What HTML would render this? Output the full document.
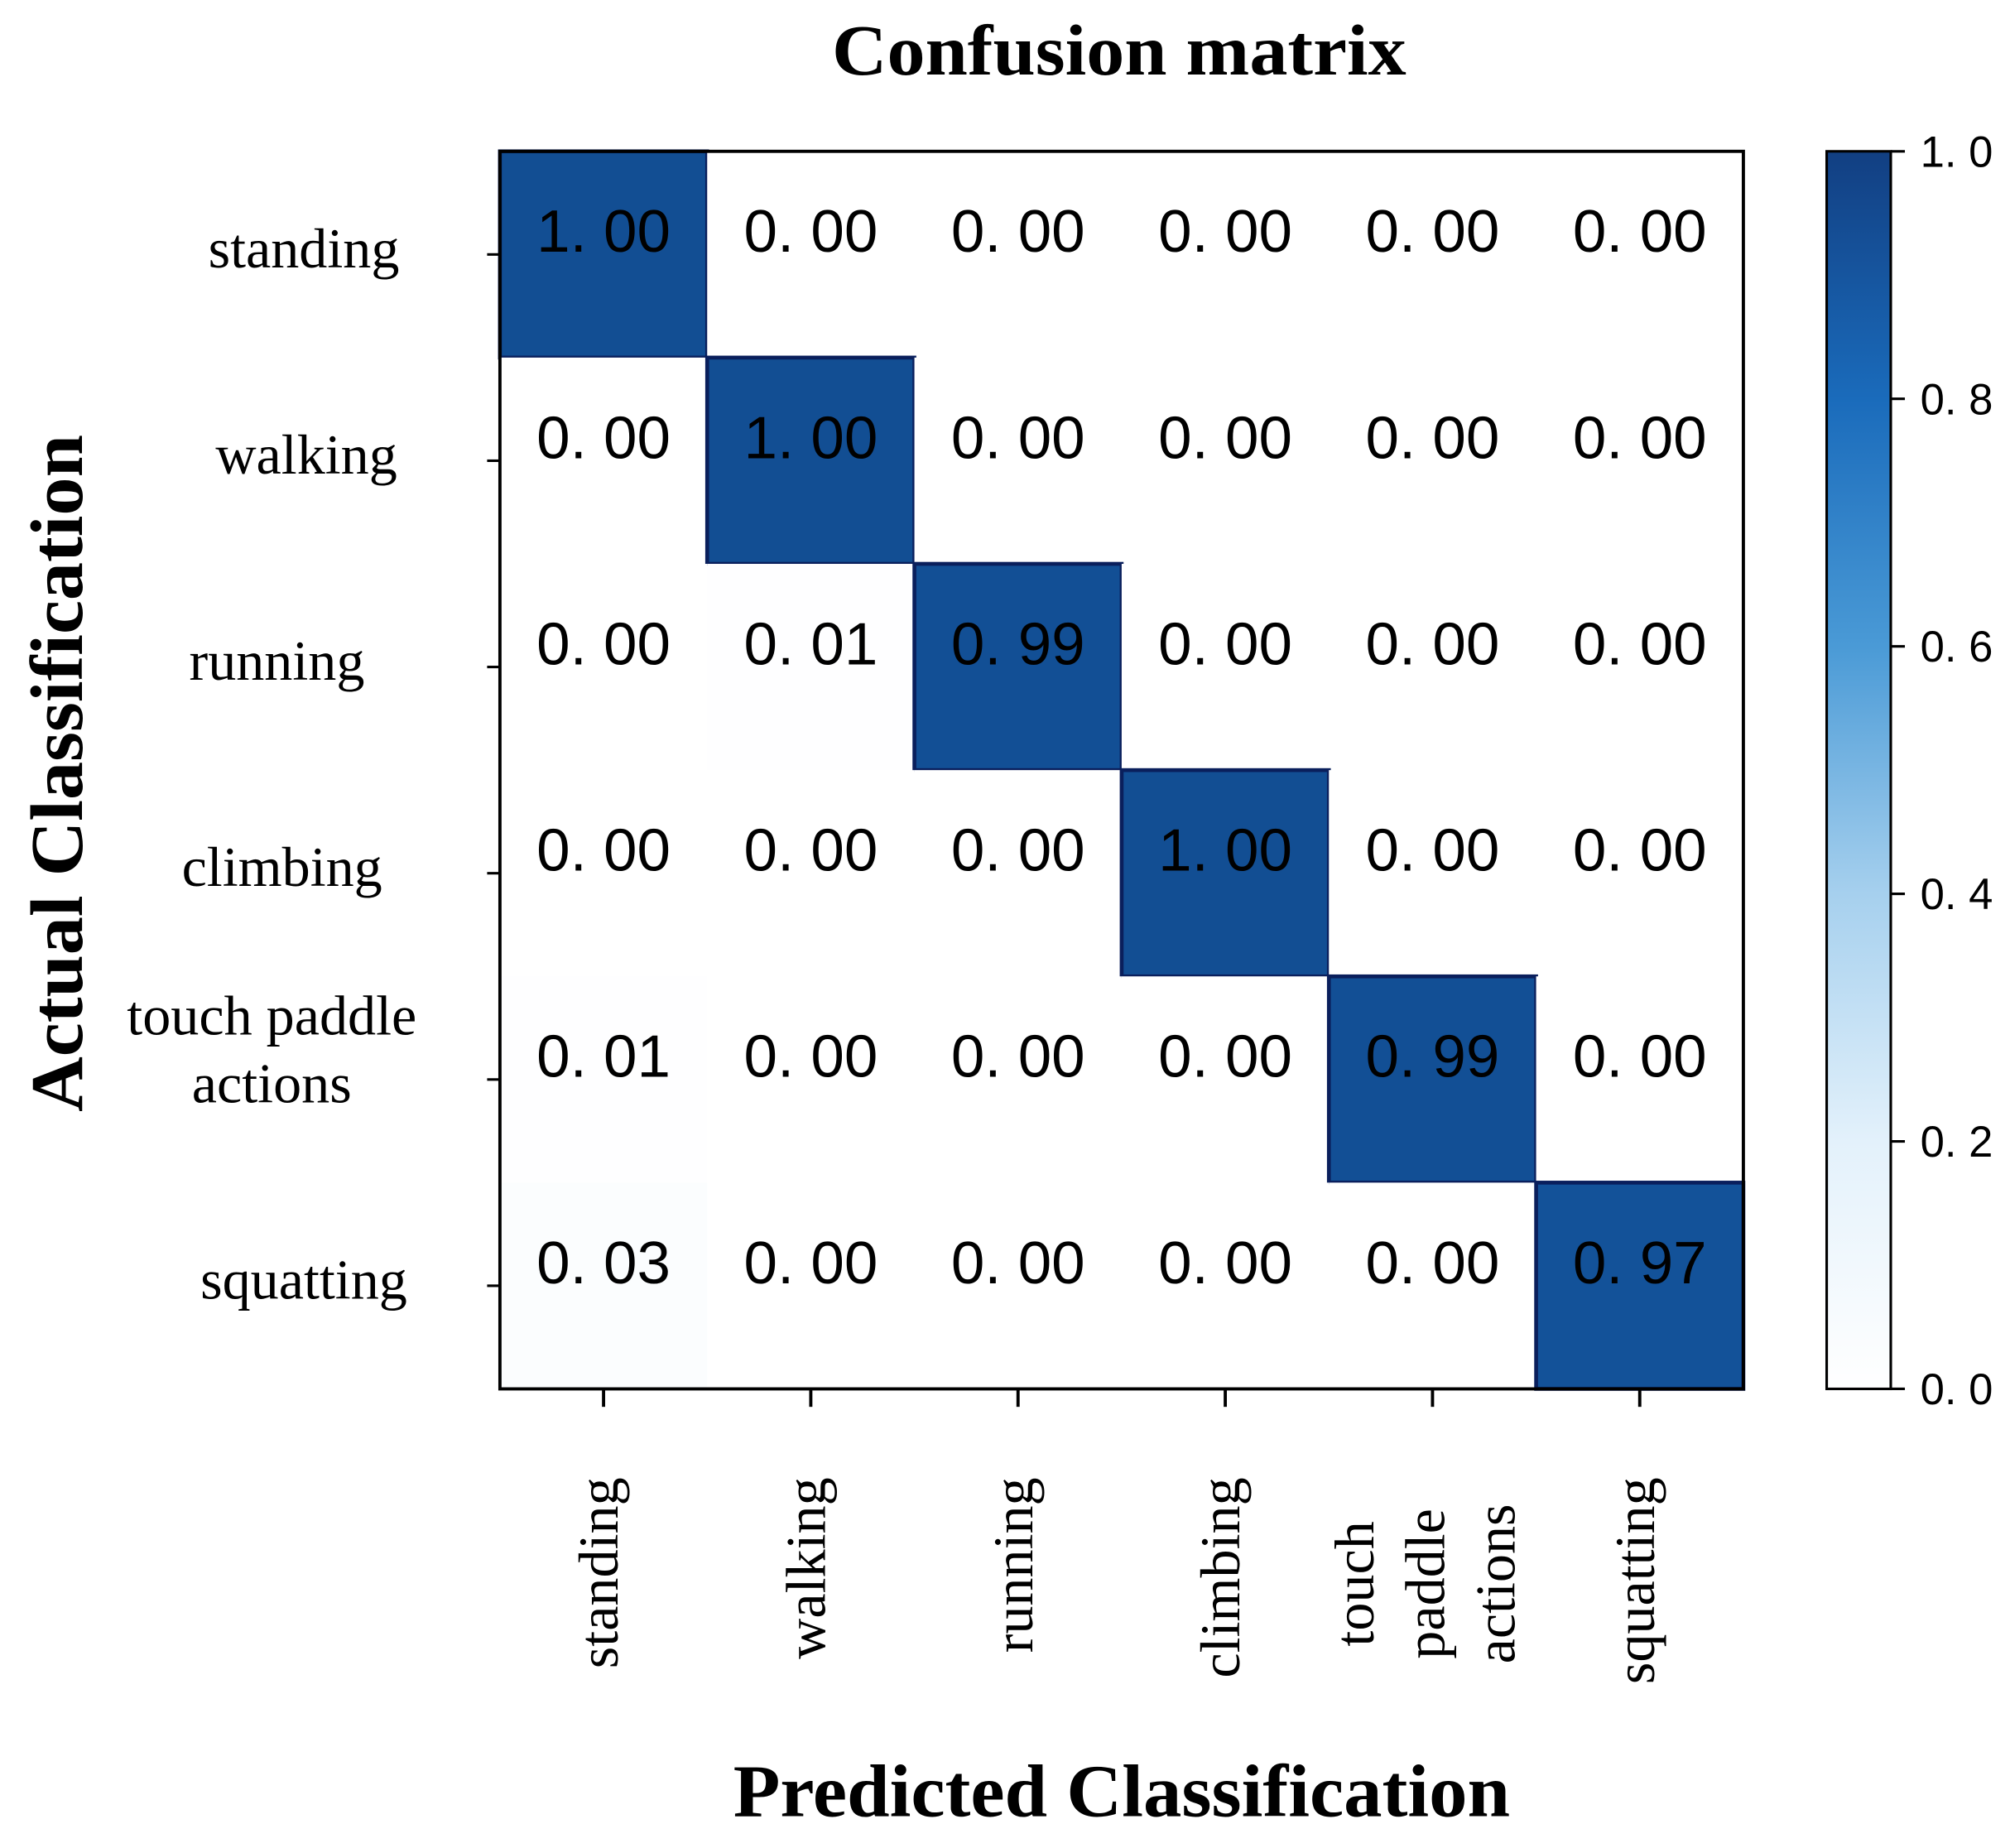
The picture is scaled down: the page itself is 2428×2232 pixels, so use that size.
<!DOCTYPE html>
<html><head><meta charset="utf-8"><style>
html,body{margin:0;padding:0;background:#fff;}
svg{display:block;}
.serif{font-family:"Liberation Serif",serif;}
.sans{font-family:"Liberation Sans",sans-serif;}
</style></head>
<body>
<svg id="chart" width="2428" height="2232" viewBox="0 0 1568 1441" preserveAspectRatio="none" xmlns="http://www.w3.org/2000/svg">
<defs>
<linearGradient id="cbar" x1="0" y1="1" x2="0" y2="0">
<stop offset="0" stop-color="#ffffff"/>
<stop offset="0.2" stop-color="#e3f1fb"/>
<stop offset="0.4" stop-color="#a6d0ee"/>
<stop offset="0.6" stop-color="#4a9ad6"/>
<stop offset="0.8" stop-color="#1a6bbb"/>
<stop offset="1" stop-color="#123f82"/>
</linearGradient>
</defs>
<text class="serif" x="873" y="58" font-size="56" font-weight="bold" text-anchor="middle" textLength="448" lengthAdjust="spacingAndGlyphs">Confusion matrix</text>
<g id="cells"></g>
<rect x="390" y="118" width="970" height="965" fill="none" stroke="#000" stroke-width="2.5"/>
<g id="ticks"></g>
<text class="serif" transform="translate(64,603) rotate(-90)" font-size="58" font-weight="bold" text-anchor="middle" textLength="528" lengthAdjust="spacingAndGlyphs">Actual Classification</text>
<text class="serif" x="875" y="1416" font-size="58" font-weight="bold" text-anchor="middle" textLength="606" lengthAdjust="spacingAndGlyphs">Predicted Classification</text>
<rect x="1425" y="118" width="50" height="965" fill="url(#cbar)" stroke="#000" stroke-width="2"/>
<g id="cbticks"></g>
</svg>
<script>
const categories = ["standing","walking","running","climbing","touch paddle actions","squatting"];
const row0 = [1.00,0.00,0.00,0.00,0.00,0.00];
const row1 = [0.00,1.00,0.00,0.00,0.00,0.00];
const row2 = [0.00,0.01,0.99,0.00,0.00,0.00];
const row3 = [0.00,0.00,0.00,1.00,0.00,0.00];
const row4 = [0.01,0.00,0.00,0.00,0.99,0.00];
const row5 = [0.03,0.00,0.00,0.00,0.00,0.97];
const cbTicks = [0.0,0.2,0.4,0.6,0.8,1.0];
const rows=[row0,row1,row2,row3,row4,row5];
const NS="http://www.w3.org/2000/svg";
const X0=390,X1=1360,Y0=118,Y1=1083,n=categories.length;
const cw=(X1-X0)/n,ch=(Y1-Y0)/n;
const xs=i=>X0+i*cw, ys=j=>Y0+j*ch;
const cbY=v=>Y1-v*(Y1-Y0);
const stops=[[0,[255,255,255]],[0.2,[227,241,251]],[0.4,[166,208,238]],[0.6,[74,154,214]],[0.8,[26,107,187]],[1,[18,78,147]]];
function color(v){for(let k=1;k<stops.length;k++){if(v<=stops[k][0]){const a=stops[k-1],b=stops[k];const t=(v-a[0])/(b[0]-a[0]);const c=a[1].map((q,i)=>Math.round(q+(b[1][i]-q)*t));return `rgb(${c.join(',')})`;}}return 'rgb(18,78,147)';}
function mk(tag,attrs,parent){const e=document.createElementNS(NS,tag);for(const k in attrs)e.setAttribute(k,attrs[k]);parent.appendChild(e);return e;}
const gc=document.getElementById('cells'),gt=document.getElementById('ticks'),gb=document.getElementById('cbticks');
rows.forEach((r,j)=>{r.forEach((v,i)=>{
 const rc=mk('rect',{x:xs(i),y:ys(j),width:cw,height:ch,fill:color(v),stroke:v>0.5?'#0a1f5c':'none','stroke-width':3},gc);
 
 
 const t=mk('text',{x:xs(i)+cw/2,y:ys(j)+ch/2-2,'font-size':47,'text-anchor':'middle',class:'sans',fill:'#000'},gc);
 t.textContent=v.toFixed(2).replace('.','. ');
 
 
});});
categories.forEach((c,j)=>{
 const cy=ys(j)+ch/2;
 const tk=mk('line',{x1:380,x2:390,y1:cy,y2:cy,stroke:'#000','stroke-width':2},gt);
 
 
 const t=mk('text',{class:'serif','font-size':44,'text-anchor':'middle',fill:'#000'},gt);
 
 
 const words=c.split(' ');
 if(words.length>2){
  const a=mk('tspan',{x:212,y:cy-35},t);a.textContent=words.slice(0,2).join(' ');
  const b=mk('tspan',{x:212,y:cy+18},t);b.textContent=words.slice(2).join(' ');
 } else {t.setAttribute('x',[237,239,216,220,212,237][j]);t.setAttribute('y',cy+10);t.textContent=c;}
 const cx=xs(j)+cw/2;
 const xt=mk('line',{x1:cx,x2:cx,y1:1083,y2:1097,stroke:'#000','stroke-width':2.5},gt);
 
 
 if(words.length>2){
  words.forEach((w,k)=>{
   const tx=mk('text',{class:'serif','font-size':44,'text-anchor':'middle',fill:'#000',transform:`translate(${cx-46+k*55},1235) rotate(-90)`},gt);
   tx.textContent=w;
   
   
  });
 } else {
  const tx=mk('text',{class:'serif','font-size':44,'text-anchor':'end',fill:'#000',transform:`translate(${cx+11},1152) rotate(-90)`},gt);
  tx.textContent=c;
  
  
 }
});
cbTicks.forEach(v=>{
 const y=cbY(v);
 const l=mk('line',{x1:1475,x2:1486,y1:y,y2:y,stroke:'#000','stroke-width':2},gb);
 
 
 const t=mk('text',{x:1498,y:y+12,'font-size':34,class:'sans',fill:'#000'},gb);
 t.textContent=v.toFixed(1).replace('.','. ');
 
 
});
</script>
</body></html>
